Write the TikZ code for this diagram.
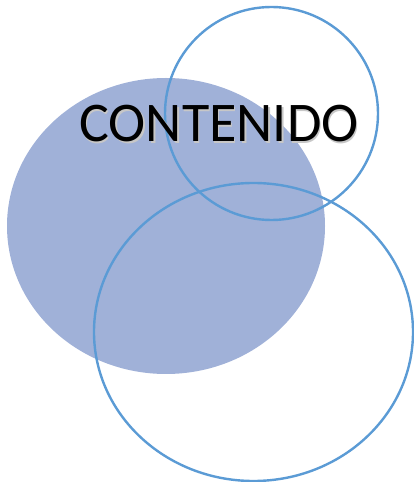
\documentclass[tikz,border=0pt]{standalone}
\usepackage{fontspec}
\setmainfont{Carlito}
\definecolor{fillblue}{RGB}{160,177,216}
\definecolor{lineblue}{RGB}{91,155,213}
\begin{document}
\begin{tikzpicture}[x=1pt,y=1pt,
  ring/.style={draw=lineblue,line width=2.4pt},
  title/.style={font=\fontsize{56}{60}\selectfont,anchor=base,inner sep=0pt}]
\useasboundingbox (0,0) rectangle (414,482);
\fill[fillblue] (166,256) ellipse [x radius=159,y radius=148];
\draw[ring] (271.5,368.5) ellipse [x radius=106.5,y radius=106.5];
\draw[ring] (253.5,150) ellipse [x radius=159.5,y radius=149];
\node[title,text=black!22] (shadow) at (220.5,338.5) {CONTENIDO};
\node[title,text=black] (label) at (219,340) {CONTENIDO};
\end{tikzpicture}
\end{document}
